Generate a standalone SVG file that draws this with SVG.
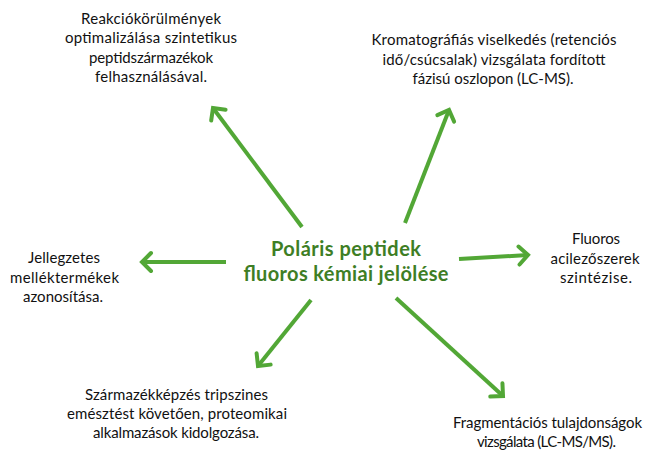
<svg xmlns="http://www.w3.org/2000/svg" width="650" height="450" viewBox="0 0 650 450">
<style>
.t{font-family:Lato,"Open Sans","Liberation Sans",sans-serif;font-size:15px;fill:#111;text-anchor:middle}
.c{font-family:Lato,"Open Sans","Liberation Sans",sans-serif;font-size:20px;font-weight:bold;fill:#3E7E25;text-anchor:middle}
.a{stroke:#52A736;stroke-width:4;fill:none;marker-end:url(#h)}
</style>
<defs>
<marker id="h" markerUnits="userSpaceOnUse" markerWidth="24" markerHeight="24" refX="12" refY="12" orient="auto" overflow="visible">
<path d="M3,3 L12,12 L3,21" fill="none" stroke="#52A736" stroke-width="4" stroke-linecap="round" stroke-linejoin="miter"/>
</marker>
</defs>
<rect width="650" height="450" fill="#fff"/>
<g id="connectors">
<line class="a" x1="302" y1="227" x2="213" y2="108"/>
<line class="a" x1="405" y1="223" x2="449" y2="110"/>
<line class="a" x1="226" y1="262" x2="142" y2="262"/>
<line class="a" x1="459" y1="259" x2="528" y2="255"/>
<line class="a" x1="311" y1="300" x2="258" y2="366"/>
<line class="a" x1="396" y1="298" x2="503" y2="396"/>
</g>
<g id="center">
<text class="c" x="346" y="256" textLength="150">Poláris peptidek</text>
<text class="c" x="346" y="281" textLength="205">fluoros kémiai jelölése</text>
</g>
<g id="n1">
<text class="t" x="151" y="24" textLength="140">Reakciókörülmények</text>
<text class="t" x="151" y="43" textLength="172">optimalizálása szintetikus</text>
<text class="t" x="151" y="63" textLength="124">peptidszármazékok</text>
<text class="t" x="151" y="82" textLength="112">felhasználásával.</text>
</g>
<g id="n2">
<text class="t" x="494" y="45" textLength="245">Kromatográfiás viselkedés (retenciós</text>
<text class="t" x="494" y="64.5" textLength="223">idő/csúcsalak) vizsgálata fordított</text>
<text class="t" x="493" y="84" textLength="161">fázisú oszlopon (LC-MS).</text>
</g>
<g id="n3">
<text class="t" x="596" y="244" textLength="48">Fluoros</text>
<text class="t" x="595" y="263.5" textLength="89">acilezőszerek</text>
<text class="t" x="596" y="283" textLength="72">szintézise.</text>
</g>
<g id="n4">
<text class="t" x="64" y="263" textLength="72">Jellegzetes</text>
<text class="t" x="64.5" y="283" textLength="109">melléktermékek</text>
<text class="t" x="63" y="302" textLength="80">azonosítása.</text>
</g>
<g id="n5">
<text class="t" x="176.5" y="400" textLength="183">Származékképzés tripszines</text>
<text class="t" x="177" y="419" textLength="220">emésztést követően, proteomikai</text>
<text class="t" x="176" y="438" textLength="166">alkalmazások kidolgozása.</text>
</g>
<g id="n6">
<text class="t" x="547.5" y="428" textLength="189">Fragmentációs tulajdonságok</text>
<text class="t" x="546.5" y="447" textLength="139">vizsgálata (LC-MS/MS).</text>
</g>
</svg>
